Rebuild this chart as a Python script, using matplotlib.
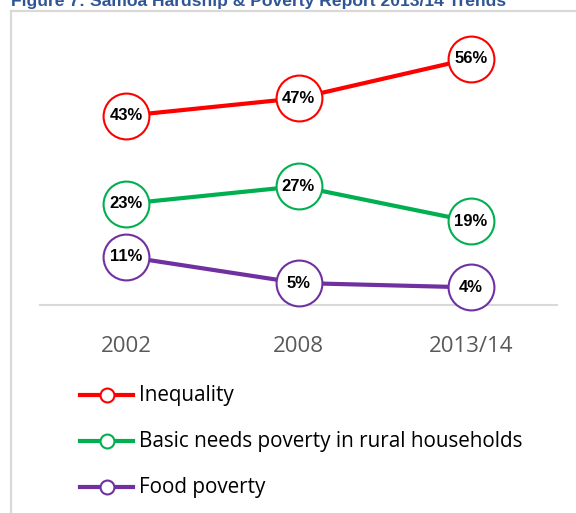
import matplotlib.pyplot as plt
from matplotlib.lines import Line2D

# data
years = ['2002', '2008', '2013/14']
inequality = [43, 47, 56]
basic_needs = [23, 27, 19]
food_poverty = [11, 5, 4]

series = [
    ('Inequality', inequality, '#FF0000'),
    ('Basic needs poverty in rural households', basic_needs, '#00B050'),
    ('Food poverty', food_poverty, '#7030A0'),
]

W, H = 576, 513
fig = plt.figure(figsize=(W / 100, H / 100), dpi=100)

# outer frame (only top and left edges are visible)
fig.add_artist(Line2D([11 / W, 1], [1 - 11 / H, 1 - 11 / H], color='#d9d9d9', lw=1.6))
fig.add_artist(Line2D([11 / W, 11 / W], [0, 1 - 11 / H], color='#d9d9d9', lw=1.6))

# clipped title
fig.text(11 / W, 1 - 6 / H, 'Figure 7: Samoa Hardship & Poverty Report 2013/14 Trends',
         fontsize=12.6, fontweight='bold', color='#2F5597',
         family=['Liberation Sans', 'DejaVu Sans'], va='baseline', ha='left')

ax = fig.add_axes([40 / W, (H - 305) / H, 517 / W, 264 / H])
x = list(range(len(years)))
for name, vals, col in series:
    ax.plot(x, vals, color=col, lw=3, marker='o', markersize=33,
            markerfacecolor='white', markeredgecolor=col, markeredgewidth=1.5,
            clip_on=False, zorder=3)
    for xi, v in zip(x, vals):
        ax.text(xi, v, '{}%'.format(v), ha='center', va='center', fontsize=12,
                fontweight='bold', family=['Liberation Sans', 'DejaVu Sans'], zorder=4)

ax.set_xlim(-0.5, 2.5)
ax.set_ylim(0, 60)
ax.set_xticks(x)
ax.set_xticklabels(years, fontsize=16, color='#595959', family=['Open Sans', 'DejaVu Sans'])
ax.tick_params(axis='x', length=0, pad=22)
ax.set_yticks([])
for s in ['top', 'left', 'right']:
    ax.spines[s].set_visible(False)
ax.spines['bottom'].set_color('#d9d9d9')
ax.spines['bottom'].set_linewidth(1.5)
ax.spines['bottom'].set_zorder(1)

# legend drawn by hand
leg_y = [395, 441, 487]
for (name, vals, col), yy in zip(series, leg_y):
    fy = 1 - yy / H
    fig.add_artist(Line2D([80 / W, 133 / W], [fy, fy], color=col, lw=3))
    fig.add_artist(Line2D([107 / W], [fy], color=col, marker='o', markersize=10,
                          markerfacecolor='white', markeredgewidth=1.5))
    fig.text(139 / W, fy, name, fontsize=14.9, va='center', ha='left',
             family=['Open Sans', 'DejaVu Sans'], color='black')

fig.savefig('out.png', dpi=100)
